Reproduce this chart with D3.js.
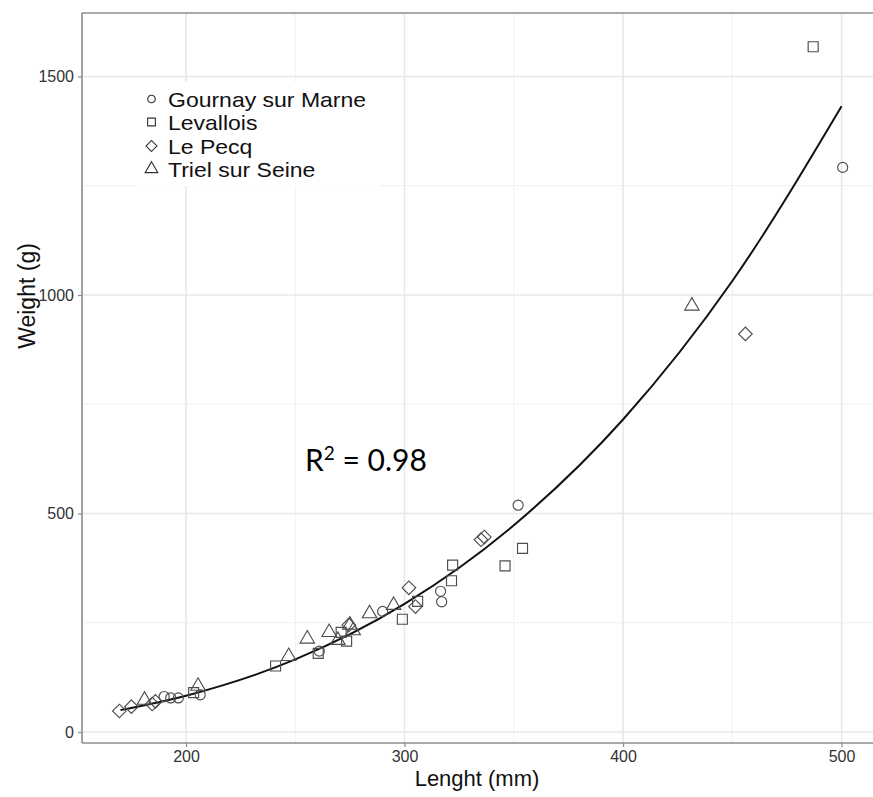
<!DOCTYPE html>
<html><head><meta charset="utf-8">
<script src="https://cdn.jsdelivr.net/npm/d3@7"></script>
<style>html,body{margin:0;padding:0;background:#fff;overflow:hidden;}svg{display:block;}</style>
</head><body>
<script>
// ---- data ----
const sites = ["Gournay sur Marne", "Levallois", "Le Pecq", "Triel sur Seine"];
const gournayLength = [190, 193, 196.5, 206.5, 261, 290, 316.5, 317, 352, 500.5];
const gournayWeight = [81, 78, 78, 85, 185, 276, 322, 298, 519, 1292];
const levalloisLength = [203.5, 241, 260.5, 271, 273.5, 299, 306, 321.5, 322, 346, 354, 487];
const levalloisWeight = [90, 151, 180, 228, 208, 258, 299, 346, 382, 380, 420, 1568];
const lePecqLength = [169.5, 175, 184.5, 186, 274.5, 302, 305, 335, 336.5, 456];
const lePecqWeight = [48, 58, 64, 70, 245, 330, 287, 440, 446, 911];
const trielLength = [181, 205.5, 247, 255.5, 265.5, 269.5, 275, 276.5, 284, 295, 431.5];
const trielWeight = [73, 105, 173, 213, 228, 210, 245, 232, 271, 290, 975];
const fitLength = [170, 200, 250, 300, 350, 400, 450, 500];
const fitWeight = [50, 83, 166, 293, 473, 715, 1032, 1432];
const xTicks = [200, 300, 400, 500];
const xMinor = [250, 350, 450];
const yTicks = [0, 500, 1000, 1500];
const yMinor = [250, 750, 1250];

const W = 873, H = 797;
const svg = d3.select("body").append("svg").attr("width", W).attr("height", H);

const pL = 82, pR = 873, pT = 13, pB = 743;
const x = d3.scaleLinear().domain([152.4, 515.3]).range([82, 875]);
const y = d3.scaleLinear().domain([-25.2, 1645.3]).range([743, 13]);

// grid
const g = svg.append("g");
g.selectAll(".xmin").data(xMinor).enter().append("line")
  .attr("x1", d => x(d)).attr("x2", d => x(d)).attr("y1", pT).attr("y2", pB)
  .attr("stroke", "#f0f0f0").attr("stroke-width", 1);
g.selectAll(".ymin").data(yMinor).enter().append("line")
  .attr("y1", d => y(d)).attr("y2", d => y(d)).attr("x1", pL).attr("x2", pR)
  .attr("stroke", "#f0f0f0").attr("stroke-width", 1);
g.selectAll(".xmaj").data(xTicks).enter().append("line")
  .attr("x1", d => x(d)).attr("x2", d => x(d)).attr("y1", pT).attr("y2", pB)
  .attr("stroke", "#e8e8e8").attr("stroke-width", 1.6);
g.selectAll(".ymaj").data(yTicks).enter().append("line")
  .attr("y1", d => y(d)).attr("y2", d => y(d)).attr("x1", pL).attr("x2", pR)
  .attr("stroke", "#e8e8e8").attr("stroke-width", 1.6);

// border: top, left, bottom (right side lies outside the picture)
const bc = "#8c8c8c";
svg.append("line").attr("x1", pL).attr("x2", pR).attr("y1", pT).attr("y2", pT).attr("stroke", bc).attr("stroke-width", 1.6);
svg.append("line").attr("x1", pL).attr("x2", pR).attr("y1", pB).attr("y2", pB).attr("stroke", bc).attr("stroke-width", 1.6);
svg.append("line").attr("x1", pL).attr("x2", pL).attr("y1", pT).attr("y2", pB).attr("stroke", bc).attr("stroke-width", 1.6);

// axes
const xAxis = svg.append("g").attr("transform", `translate(0,${pB})`)
  .call(d3.axisBottom(x).tickValues(xTicks).tickFormat(d3.format("d")).tickSize(4).tickPadding(4));
const yAxis = svg.append("g").attr("transform", `translate(${pL},0)`)
  .call(d3.axisLeft(y).tickValues(yTicks).tickFormat(d3.format("d")).tickSize(4).tickPadding(4));
[xAxis, yAxis].forEach(a => {
  a.select(".domain").remove();
  a.selectAll(".tick line").attr("stroke", bc).attr("stroke-width", 1.2);
  a.selectAll("text").attr("font-family", "Liberation Sans, Arial, sans-serif")
    .attr("font-size", 16).attr("fill", "#333");
});

// fitted curve
const line = d3.line().x((d, i) => x(fitLength[i])).y((d, i) => y(fitWeight[i]))
  .curve(d3.curveMonotoneX);
svg.append("path").datum(fitLength).attr("d", line)
  .attr("fill", "none").attr("stroke", "#111").attr("stroke-width", 2);

// symbols
const symCircle = d3.symbol().type(d3.symbolCircle).size(80)();
const symSquare = d3.symbol().type(d3.symbolSquare).size(100)();
const symDiamond = d3.symbol().type(d3.symbolSquare).size(92)();
const symTriangle = d3.symbol().type(d3.symbolTriangle).size(90)();
const series = [
  {L: gournayLength, Wt: gournayWeight, path: symCircle, rot: 0},
  {L: levalloisLength, Wt: levalloisWeight, path: symSquare, rot: 0},
  {L: lePecqLength, Wt: lePecqWeight, path: symDiamond, rot: 45},
  {L: trielLength, Wt: trielWeight, path: symTriangle, rot: 0}
];
series.forEach(s => {
  svg.append("g").selectAll("path").data(s.L).enter().append("path")
    .attr("d", s.path)
    .attr("transform", (d, i) => `translate(${x(d)},${y(s.Wt[i])}) rotate(${s.rot})`)
    .attr("fill", "none").attr("stroke", "#4d4d4d").attr("stroke-width", 1.15);
});

// axis titles
svg.append("text").attr("x", 477).attr("y", 786).attr("text-anchor", "middle")
  .attr("font-family", "Liberation Sans, Arial, sans-serif").attr("font-size", 22)
  .attr("fill", "#111").text("Lenght (mm)");
svg.append("text").attr("transform", "translate(35,296) rotate(-90)").attr("text-anchor", "middle")
  .attr("font-family", "Liberation Sans, Arial, sans-serif").attr("font-size", 23)
  .attr("fill", "#111").text("Weight (g)");

// legend
svg.append("rect").attr("x", 135).attr("y", 82).attr("width", 245).attr("height", 104).attr("fill", "#fff");
const legSyms = [
  {path: d3.symbol().type(d3.symbolCircle).size(45)(), rot: 0},
  {path: d3.symbol().type(d3.symbolSquare).size(60)(), rot: 0},
  {path: d3.symbol().type(d3.symbolSquare).size(60)(), rot: 45},
  {path: d3.symbol().type(d3.symbolTriangle).size(70)(), rot: 0}
];
const legY = [99, 122, 146, 169];
sites.forEach((s, i) => {
  svg.append("path").attr("d", legSyms[i].path)
    .attr("transform", `translate(151.5,${legY[i]}) rotate(${legSyms[i].rot})`)
    .attr("fill", "none").attr("stroke", "#333").attr("stroke-width", 1.1);
  svg.append("text").attr("transform", `translate(168,${legY[i] + 7.5}) scale(1.15,1)`)
    .attr("font-family", "Liberation Sans, Arial, sans-serif").attr("font-size", 20)
    .attr("fill", "#111").text(s);
});

// R^2 annotation
const r2 = svg.append("text").attr("x", 305).attr("y", 471)
  .attr("font-family", "Lato, Open Sans, sans-serif").attr("font-size", 30).attr("fill", "#000");
r2.append("tspan").text("R");
r2.append("tspan").attr("dy", -11).attr("font-size", 19).text("2");
r2.append("tspan").attr("dy", 11).text(" = 0.98");
</script>
</body></html>
